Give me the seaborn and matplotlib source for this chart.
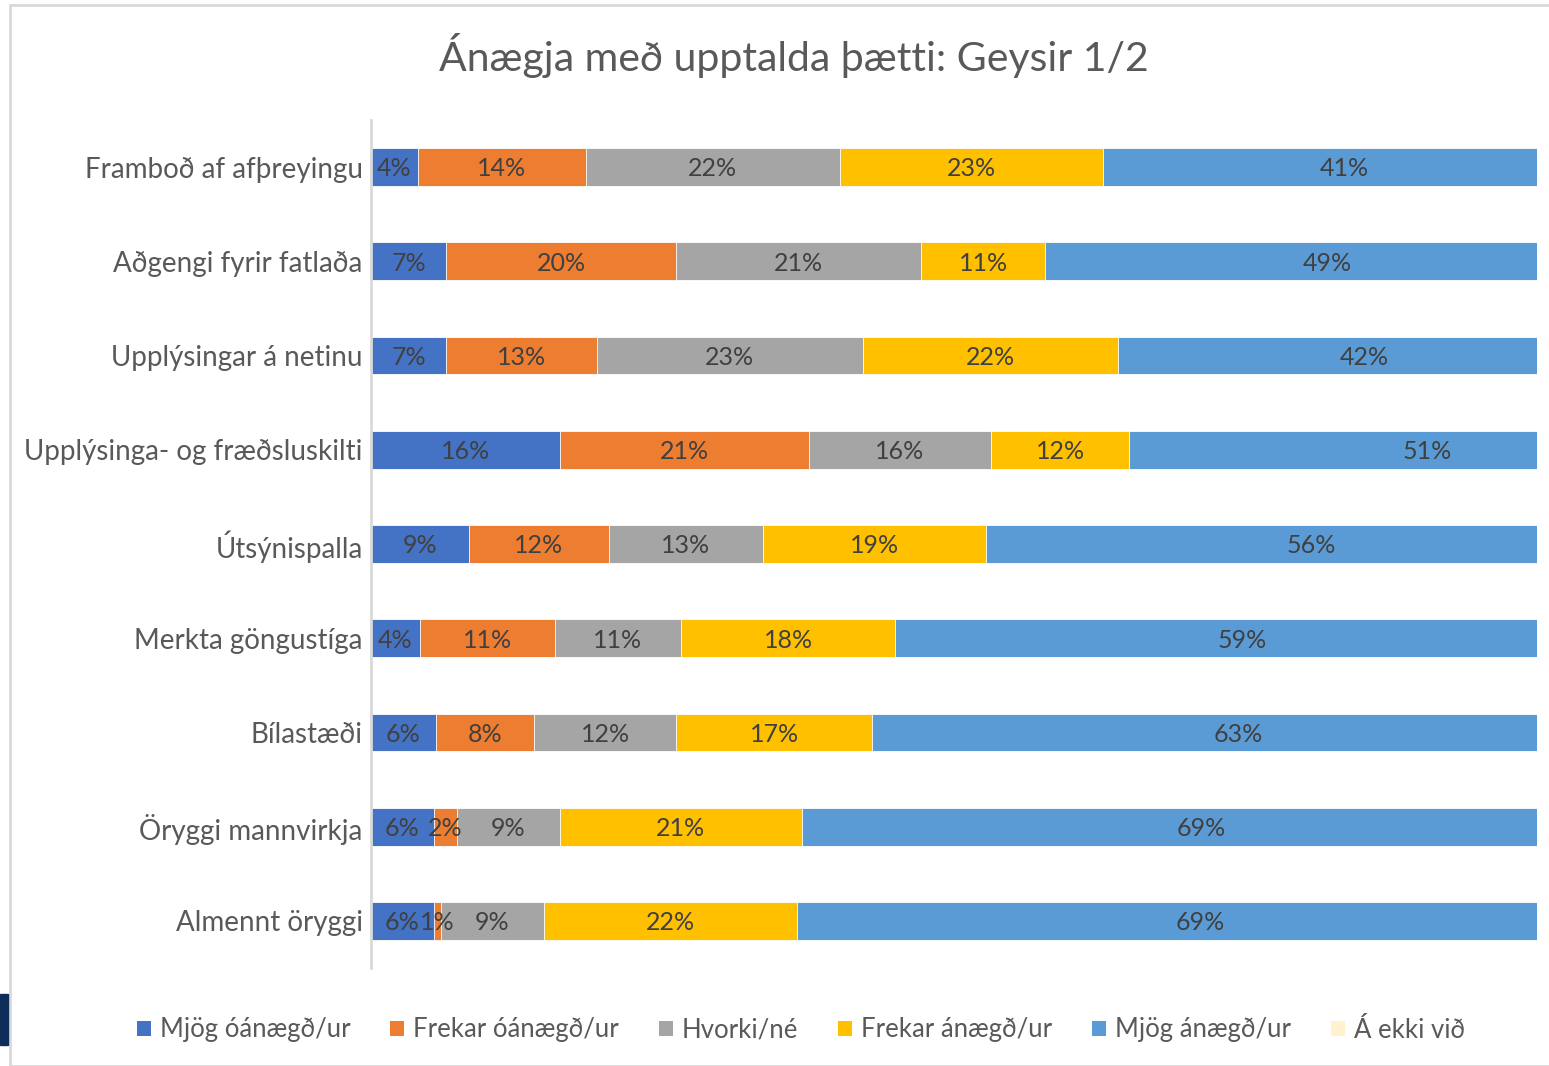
import numpy as np
import pandas as pd
import seaborn as sns
import matplotlib.pyplot as plt
from matplotlib.patches import Patch, Rectangle

### data
categories = ["Framboð af afþreyingu", "Aðgengi fyrir fatlaða", "Upplýsingar á netinu",
              "Upplýsinga- og fræðsluskilti", "Útsýnispalla", "Merkta göngustíga",
              "Bílastæði", "Öryggi mannvirkja", "Almennt öryggi"]

levels = ["Mjög óánægð/ur", "Frekar óánægð/ur", "Hvorki/né",
          "Frekar ánægð/ur", "Mjög ánægð/ur", "Á ekki við"]
colors = ["#4472C4", "#ED7D31", "#A5A5A5", "#FFC000", "#5B9BD5", "#FFF2CC"]

# segment lengths (%)
mjog_oanaegd = [3.99, 6.43, 6.43, 16.19, 8.40, 4.20, 5.56, 5.39, 5.39]
frekar_oanaegd = [14.43, 19.73, 12.95, 21.35, 12.00, 11.55, 8.45, 1.96, 0.61]
hvorki = [21.79, 21.00, 22.80, 15.66, 13.20, 10.85, 12.16, 8.84, 8.80]
frekar_anaegd = [22.58, 10.68, 21.88, 11.82, 19.16, 18.38, 16.80, 20.74, 21.75]
mjog_anaegd = [41.4, 48.4, 42.3, 51.2, 55.7, 59.4, 62.9, 68.6, 69.1]
a_ekki_vid = [0, 0, 0, 0, 0, 0, 0, 0, 0]

# data labels as printed on the bars
lab_mjog_oanaegd = [4, 7, 7, 16, 9, 4, 6, 6, 6]
lab_frekar_oanaegd = [14, 20, 13, 21, 12, 11, 8, 2, 1]
lab_hvorki = [22, 21, 23, 16, 13, 11, 12, 9, 9]
lab_frekar_anaegd = [23, 11, 22, 12, 19, 18, 17, 21, 22]
lab_mjog_anaegd = [41, 49, 42, 51, 56, 59, 63, 69, 69]

series = [mjog_oanaegd, frekar_oanaegd, hvorki, frekar_anaegd, mjog_anaegd, a_ekki_vid]
series_labels = [lab_mjog_oanaegd, lab_frekar_oanaegd, lab_hvorki,
                 lab_frekar_anaegd, lab_mjog_anaegd]

### plot
sns.set_theme(style="white")
plt.rcParams['font.family'] = ['Lato', 'DejaVu Sans']

fig = plt.figure(figsize=(15.49, 10.66), dpi=100)
ax = fig.add_axes([371 / 1549, 1 - 968 / 1066, 1166 / 1549, 848 / 1066])

df = pd.DataFrame(np.array(series).T, columns=levels)
df["Kategoría"] = categories
cum = df[levels].cumsum(axis=1)

# draw cumulative totals from longest to shortest so they stack
for lvl, col in reversed(list(zip(levels, colors))):
    sns.barplot(x=cum[lvl], y=df["Kategoría"], color=col, saturation=1,
                orient="h", width=0.4, edgecolor="white", linewidth=0.6, ax=ax)

for j, labs in enumerate(series_labels):
    start = cum[levels[j]] - df[levels[j]]
    for i, v in enumerate(labs):
        xc = start[i] + df[levels[j]][i] / 2
        ax.text(xc, i + 0.02, "{}%".format(v), ha="center", va="center",
                fontsize=18, color="#404040")

ax.set_xlim(0, 100)
ax.set_ylim(8.5, -0.5)
ax.set_xlabel("")
ax.set_ylabel("")
ax.set_xticks([])
ax.tick_params(axis="y", length=0, pad=6, labelsize=20, labelcolor="#595959")
for s in ["top", "right", "bottom"]:
    ax.spines[s].set_visible(False)
ax.spines["left"].set_color("#D9D9D9")
ax.spines["left"].set_linewidth(2)

fig.text(794 / 1549, 1 - 55 / 1066, "Ánægja með upptalda þætti: Geysir 1/2",
         ha="center", va="center", fontsize=29.5, color="#595959")

handles = [Patch(facecolor=c, edgecolor="none") for c in colors]
fig.legend(handles, levels, loc="center", bbox_to_anchor=(801 / 1549, 1 - 1030 / 1066),
           ncol=6, frameon=False, fontsize=18.5, labelcolor="#595959",
           handlelength=0.55, handleheight=0.55, handletextpad=0.35, columnspacing=1.55)

# slide frame bits
fig.add_artist(Rectangle((10 / 1549, 0), 1, 1 - 5 / 1066, transform=fig.transFigure,
                         fill=False, edgecolor="#D9D9D9", linewidth=2))
fig.add_artist(Rectangle((0, 1 - 1045 / 1066), 8 / 1549, 51 / 1066,
                         transform=fig.transFigure, color="#0F2D5A"))

fig.savefig("out.png", dpi=100)
